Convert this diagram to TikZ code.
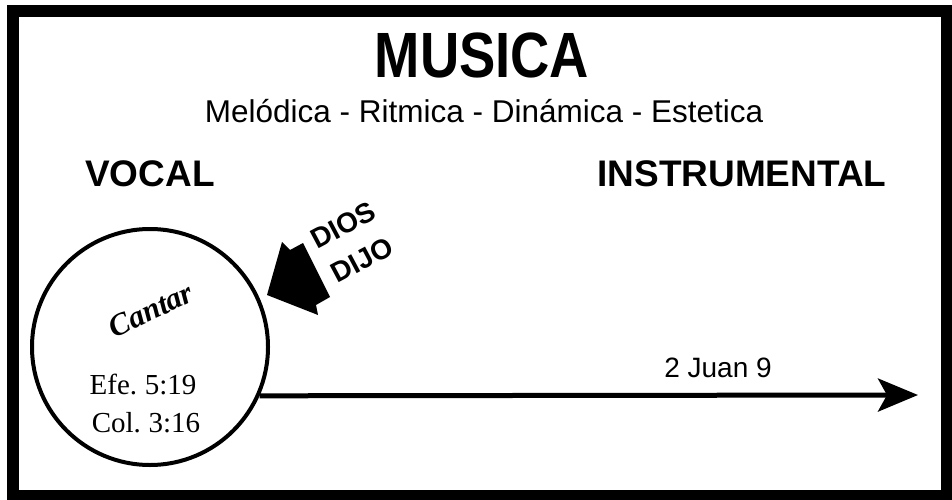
\documentclass[tikz,border=0pt]{standalone}
\usepackage{fontspec}
\setmainfont{Liberation Sans}
\newfontfamily\timesfont{Liberation Serif}
\usetikzlibrary{arrows.meta}
\begin{document}
\begin{tikzpicture}[x=1pt, y=-1pt,
  heading/.style={font=\fontsize{37}{37}\selectfont\bfseries, anchor=base},
  verse/.style={font=\timesfont\fontsize{29}{29}\selectfont, anchor=base},
  dios/.style={font=\fontsize{28}{28}\selectfont\bfseries, rotate=28, inner sep=0pt}]
\def \W {952}
\def \H {500}

\def \cx {150}
\def \cy {347}

\useasboundingbox (0, 0) rectangle (\W, \H);
% frame
\fill[white] (0, 0) rectangle (\W, \H);
\draw[line width=12pt] (13, 11.5) rectangle (946.5, 496);

% titles
\node[anchor=base, font=\fontsize{64}{64}\selectfont\bfseries] (title) at (482, 78) {\scalebox{0.85}[1]{MUSICA}};
\node[anchor=base, font=\fontsize{31.5}{31.5}\selectfont] (sub) at (484, 122) {Melódica - Ritmica - Dinámica - Estetica};
\node[heading] (vocal) at (150, 186) {VOCAL};
\node[heading] (instr) at (742, 186) {INSTRUMENTAL};

% circle
\node[circle, draw, line width=4pt, minimum size=236pt, inner sep=0pt] (cantar) at (\cx, \cy) {};
\node[rotate=25, font=\timesfont\fontsize{31}{31}\selectfont\bfseries\itshape] (cant) at (151, 310) {Cantar};
\node[verse] (efe) at (143, 394) {Efe.\kern-2pt{} 5:19};
\node[verse] (col) at (146, 432) {Col.\kern-2pt{} 3:16};

% big arrow
\fill (267, 295) -- (282, 242) -- (290, 250) -- (303, 243) -- (330, 297) -- (316, 305) -- (318, 315) -- cycle;
\node[dios] (d1) at (343, 225) {DIOS};
\node[dios] (d2) at (362, 260) {DIJO};

% line to instrumental
\coordinate (fin) at (918, 395);
\draw[line width=5pt, -{Stealth[length=40pt, width=33pt, inset=9pt]}] (cantar.-24) -- (fin);
\node[anchor=base, font=\fontsize{28}{28}\selectfont] (juan) at (718, 377) {2 Juan 9};

\end{tikzpicture}
\end{document}
